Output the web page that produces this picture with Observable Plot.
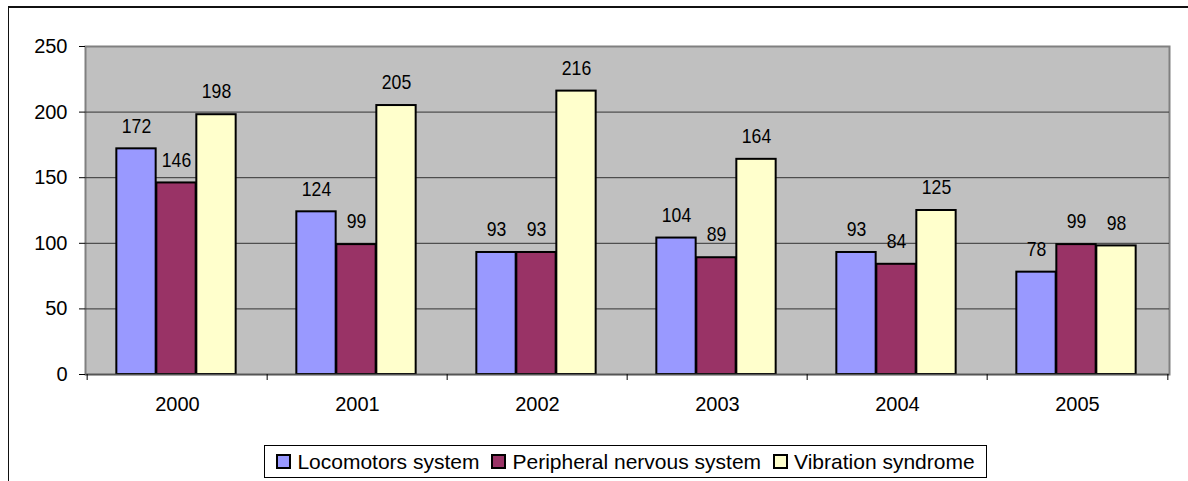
<!DOCTYPE html>
<html>
<head>
<meta charset="utf-8">
<script src="https://cdn.jsdelivr.net/npm/d3@7"></script>
<script src="https://cdn.jsdelivr.net/npm/@observablehq/plot@0.6"></script>
<style>
  html, body { margin: 0; padding: 0; background: #fff; width: 1188px; height: 481px; overflow: hidden; }
  #outer { position: absolute; left: 8px; top: 6px; width: 1400px; height: 700px; border-left: 1.5px solid #111; border-top: 2px solid #111; }
  #chart { position: absolute; left: 0; top: 0; }
  #legend { position: absolute; left: 264px; top: 445px; width: 723px; height: 33px; border: 1.5px solid #000; background: #fff;
            display: flex; align-items: center; justify-content: center; gap: 12px;
            font-family: "Liberation Sans", Arial, sans-serif; font-size: 21px; color: #000; box-sizing: border-box; }
  .item { display: flex; align-items: center; gap: 6px; white-space: nowrap; }
  .sw { width: 11px; height: 11px; border: 2px solid #000; }
</style>
</head>
<body>
<div id="outer"></div>
<div id="chart"></div>
<div id="legend"></div>
<script>
const years = ["2000", "2001", "2002", "2003", "2004", "2005"];
const seriesNames = ["Locomotors system", "Peripheral nervous system", "Vibration syndrome"];
const locomotors = [172, 124, 93, 104, 93, 78];
const peripheral = [146, 99, 93, 89, 84, 99];
const vibration = [198, 205, 216, 164, 125, 98];
const colors = ["#9999FF", "#993366", "#FFFFCC"];
const yTicks = [0, 50, 100, 150, 200, 250];

const seriesValues = [locomotors, peripheral, vibration];
const rows = seriesNames.map((s, k) => years.map((y, i) => ({year: y, series: s, k, value: seriesValues[k][i]})));

const W = 1188, H = 440, ML = 85, MR = 19, MT = 46, MB = 66;
const step = (W - ML - MR) / years.length;
const barW = 40;
const inset = (step - barW) / 2;

const marks = [
  Plot.frame({fill: "#C0C0C0", stroke: "#808080", strokeWidth: 2}),
  Plot.ruleY(yTicks.filter(d => d > 0 && d < 250), {stroke: "#333", strokeWidth: 1}),
];
rows.forEach((data, k) => {
  marks.push(Plot.barY(data, {x: "year", y: "value", fill: colors[k], stroke: "#000", strokeWidth: 2,
    insetLeft: inset, insetRight: inset, dx: (k - 1) * barW - 1}));
  marks.push(Plot.text(data, {x: "year", y: "value", text: d => String(d.value), dx: (k - 1) * barW - 1, dy: -23,
    fontFamily: "'Liberation Sans', Arial, sans-serif", fontSize: 21, fill: "#000"}));
});
marks.push(
  Plot.ruleY([0], {stroke: "#555", strokeWidth: 1.5}),
  Plot.ruleX(years, {x: d => d, dx: -step / 2, y1: 0, y2: 0, insetBottom: -6, stroke: "#000"}),
  Plot.ruleX([years[years.length - 1]], {x: d => d, dx: step / 2, y1: 0, y2: 0, insetBottom: -6, stroke: "#000"}),
  Plot.axisY({ticks: yTicks, tickSize: 6, tickPadding: 12, fontSize: 20, label: null}),
  Plot.axisX({tickSize: 0, tickPadding: 22, fontSize: 20, label: null})
);

const chart = Plot.plot({
  width: W, height: H,
  marginLeft: ML, marginRight: MR, marginTop: MT, marginBottom: MB,
  style: {fontFamily: "'Liberation Sans', Arial, sans-serif", fontSize: "20px", color: "#000", background: "transparent"},
  x: {domain: years, padding: 0},
  y: {domain: [0, 250]},
  marks
});
document.getElementById("chart").appendChild(chart);

// condense the data labels (the reference uses a narrow face)
chart.querySelectorAll('g[aria-label="text"] text').forEach(t => {
  const w = t.getComputedTextLength();
  if (w > 0) {
    t.setAttribute("textLength", (w * 0.84).toFixed(1));
    t.setAttribute("lengthAdjust", "spacingAndGlyphs");
  }
});

const legend = document.getElementById("legend");
seriesNames.forEach((s, k) => {
  const item = document.createElement("div");
  item.className = "item";
  const sw = document.createElement("div");
  sw.className = "sw";
  sw.style.background = colors[k];
  const t = document.createElement("span");
  t.textContent = s;
  item.appendChild(sw);
  item.appendChild(t);
  legend.appendChild(item);
});
</script>
</body>
</html>
